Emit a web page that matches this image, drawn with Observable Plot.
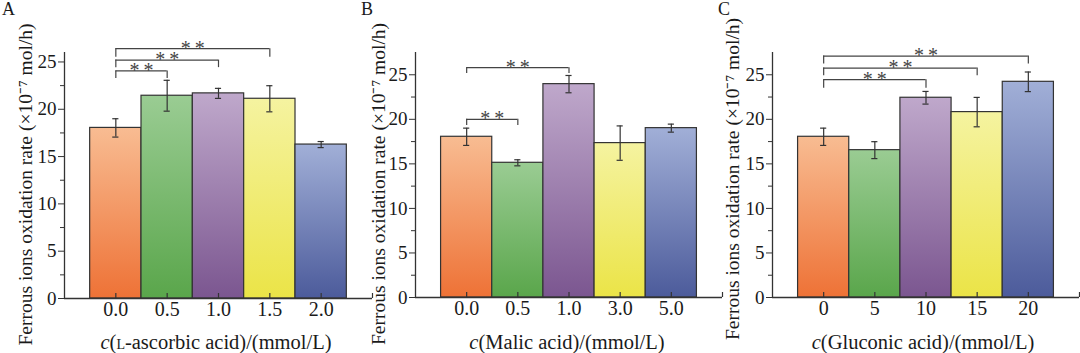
<!DOCTYPE html>
<html>
<head>
<meta charset="utf-8">
<script src="https://cdn.jsdelivr.net/npm/d3@7"></script>
<script src="https://cdn.jsdelivr.net/npm/@observablehq/plot@0.6"></script>
<style>
  html, body { margin: 0; padding: 0; background: #fff; }
  body { width: 1080px; height: 353px; overflow: hidden; position: relative;
         font-family: "Liberation Serif", "Times New Roman", serif; color: #1a1a1a; }
  .panel { position: absolute; top: 0; }
  .letter { position: absolute; top: -2px; font-size: 18px; line-height: 22px; }
  .xtitle { position: absolute; top: 331px; font-size: 20.5px; line-height: 22px;
            white-space: nowrap; transform: translateX(-50%); }
  .sc { font-variant: small-caps; }
</style>
</head>
<body>
<svg width="0" height="0" style="position:absolute;left:0;top:0">
  <defs id="gradDefs"></defs>
</svg>
<div id="pA" class="panel" style="left:0px"></div>
<div id="pB" class="panel" style="left:360px"></div>
<div id="pC" class="panel" style="left:720px"></div>
<div class="letter" style="left:2px">A</div>
<div class="letter" style="left:361px">B</div>
<div class="letter" style="left:718px">C</div>
<div class="xtitle" style="left:216px"><i>c</i>(<span class="sc">l</span>-ascorbic acid)/(mmol/L)</div>
<div class="xtitle" style="left:567px"><i>c</i>(Malic acid)/(mmol/L)</div>
<div class="xtitle" style="left:923px"><i>c</i>(Gluconic acid)/(mmol/L)</div>
<script>
// ---- data ----
const catsA = ["0.0", "0.5", "1.0", "1.5", "2.0"];
const valsA = [18.03, 21.43, 21.68, 21.11, 16.27];
const errsA = [0.97, 1.63, 0.53, 1.38, 0.32];

const catsB = ["0.0", "0.5", "1.0", "3.0", "5.0"];
const valsB = [18.04, 15.12, 23.95, 17.33, 19.01];
const errsB = [0.97, 0.34, 0.97, 1.93, 0.45];

const catsC = ["0", "5", "10", "15", "20"];
const valsC = [18.04, 16.54, 22.42, 20.81, 24.21];
const errsC = [0.97, 0.95, 0.71, 1.65, 1.10];

// significance brackets: from/to category index, bracket level, leg end level
const sigA = [
  {from: 0, to: 1, top: 24.05, bottom: 23.25},
  {from: 0, to: 2, top: 25.2, bottom: 24.4},
  {from: 0, to: 3, top: 26.4, bottom: 25.5}
];
const sigB = [
  {from: 0, to: 1, top: 20.0, bottom: 19.3},
  {from: 0, to: 2, top: 25.8, bottom: 25.15}
];
const sigC = [
  {from: 0, to: 2, top: 24.45, bottom: 23.5},
  {from: 0, to: 3, top: 25.75, bottom: 24.9},
  {from: 0, to: 4, top: 27.1, bottom: 26.2}
];

const majorTicks = [0, 5, 10, 15, 20, 25];
const minorTicks = [2.5, 7.5, 12.5, 17.5, 22.5];
const yTitle = "Ferrous ions oxidation rate (\u00d710\u207b\u2077 mol/h)";

// gradient palette: [top, bottom]
const palette = [
  ["#F8BC92", "#EE7236"],
  ["#9ACC93", "#5AA64B"],
  ["#BFA8CB", "#7B5690"],
  ["#F5F3A0", "#EBE447"],
  ["#A1AFD7", "#4C5B9B"]
];

// ---- gradients ----
const defs = document.getElementById("gradDefs");
const NS = "http://www.w3.org/2000/svg";
palette.forEach(([top, bot], i) => {
  const g = document.createElementNS(NS, "linearGradient");
  g.setAttribute("id", "grad" + i);
  g.setAttribute("x1", "0"); g.setAttribute("y1", "0");
  g.setAttribute("x2", "0"); g.setAttribute("y2", "1");
  [[0, top], [1, bot]].forEach(([o, c]) => {
    const s = document.createElementNS(NS, "stop");
    s.setAttribute("offset", o);
    s.setAttribute("stop-color", c);
    g.appendChild(s);
  });
  defs.appendChild(g);
});

const ink = "#333";

function panel({cats, vals, errs, sig, ymax, width, ml, mr, mt, mb, tdx, tdy}) {
  const bars = cats.map((c, i) => ({i, c, v: vals[i], e: errs[i]}));
  const idx = bars.map(d => d.i);
  const capW = 0.06;
  return Plot.plot({
    width, height: 353,
    marginLeft: ml, marginRight: mr, marginTop: mt, marginBottom: mb,
    x: {type: "linear", domain: [-1, 5], label: null},
    y: {domain: [0, ymax], label: null},
    color: {type: "identity"},
    style: {background: "transparent", overflow: "visible",
            fontFamily: "'Liberation Serif', 'Times New Roman', serif", color: "#1a1a1a"},
    marks: [
      Plot.rect(bars, {x1: d => d.i - 0.5, x2: d => d.i + 0.5, y1: 0, y2: "v",
                       fill: d => `url(#grad${d.i})`, stroke: ink, strokeWidth: 1.2}),
      // error bars
      Plot.ruleX(bars, {x: "i", y1: d => d.v - d.e, y2: d => d.v + d.e, stroke: ink, strokeWidth: 1.2}),
      Plot.ruleY(bars, {y: d => d.v - d.e, x1: d => d.i - capW, x2: d => d.i + capW, stroke: ink, strokeWidth: 1.2}),
      Plot.ruleY(bars, {y: d => d.v + d.e, x1: d => d.i - capW, x2: d => d.i + capW, stroke: ink, strokeWidth: 1.2}),
      // significance brackets
      Plot.ruleY(sig, {y: "top", x1: "from", x2: "to", stroke: "#444", strokeWidth: 1.2}),
      Plot.ruleX(sig, {x: "from", y1: "top", y2: "bottom", stroke: "#444", strokeWidth: 1.2}),
      Plot.ruleX(sig, {x: "to", y1: "top", y2: "bottom", stroke: "#444", strokeWidth: 1.2}),
      Plot.text(sig, {x: d => (d.from + d.to) / 2, y: "top", text: () => "*\u2009*",
                      lineAnchor: "bottom", fontSize: 20, fill: "#444", dy: 6}),
      // axes lines
      Plot.ruleX([-1], {stroke: ink, strokeWidth: 1.3}),
      Plot.ruleY([0], {stroke: ink, strokeWidth: 1.3}),
      // inward x ticks
      Plot.tickX([...idx, 5], {x: d => d, stroke: ink, strokeWidth: 1.2, insetTop: (353 - mt - mb) - 5}),
      Plot.axisX(idx, {tickSize: 0, tickPadding: 3, tickFormat: i => cats[i], fontSize: 20, label: null}),
      Plot.axisY(majorTicks, {tickSize: 6, tickPadding: 2, fontSize: 19, label: null, stroke: ink}),
      Plot.axisY(minorTicks, {tickSize: 4, tickFormat: () => "", label: null, stroke: ink}),
      Plot.text([yTitle], {frameAnchor: "left", textAnchor: "middle", rotate: -90,
                           dx: tdx, dy: tdy, fontSize: 19.5, fill: "#1a1a1a"})
    ]
  });
}

document.getElementById("pA").appendChild(panel({
  cats: catsA, vals: valsA, errs: errsA, sig: sigA, ymax: 26,
  width: 380, ml: 64, mr: 8, mt: 52, mb: 55, tdx: -39, tdy: 9
}));
document.getElementById("pB").appendChild(panel({
  cats: catsB, vals: valsB, errs: errsB, sig: sigB, ymax: 27.5,
  width: 370, ml: 55, mr: 8, mt: 52, mb: 56, tdx: -37, tdy: 9
}));
document.getElementById("pC").appendChild(panel({
  cats: catsC, vals: valsC, errs: errsC, sig: sigC, ymax: 27.5,
  width: 360, ml: 52, mr: 1, mt: 52, mb: 56, tdx: -40, tdy: 4
}));
</script>
</body>
</html>
